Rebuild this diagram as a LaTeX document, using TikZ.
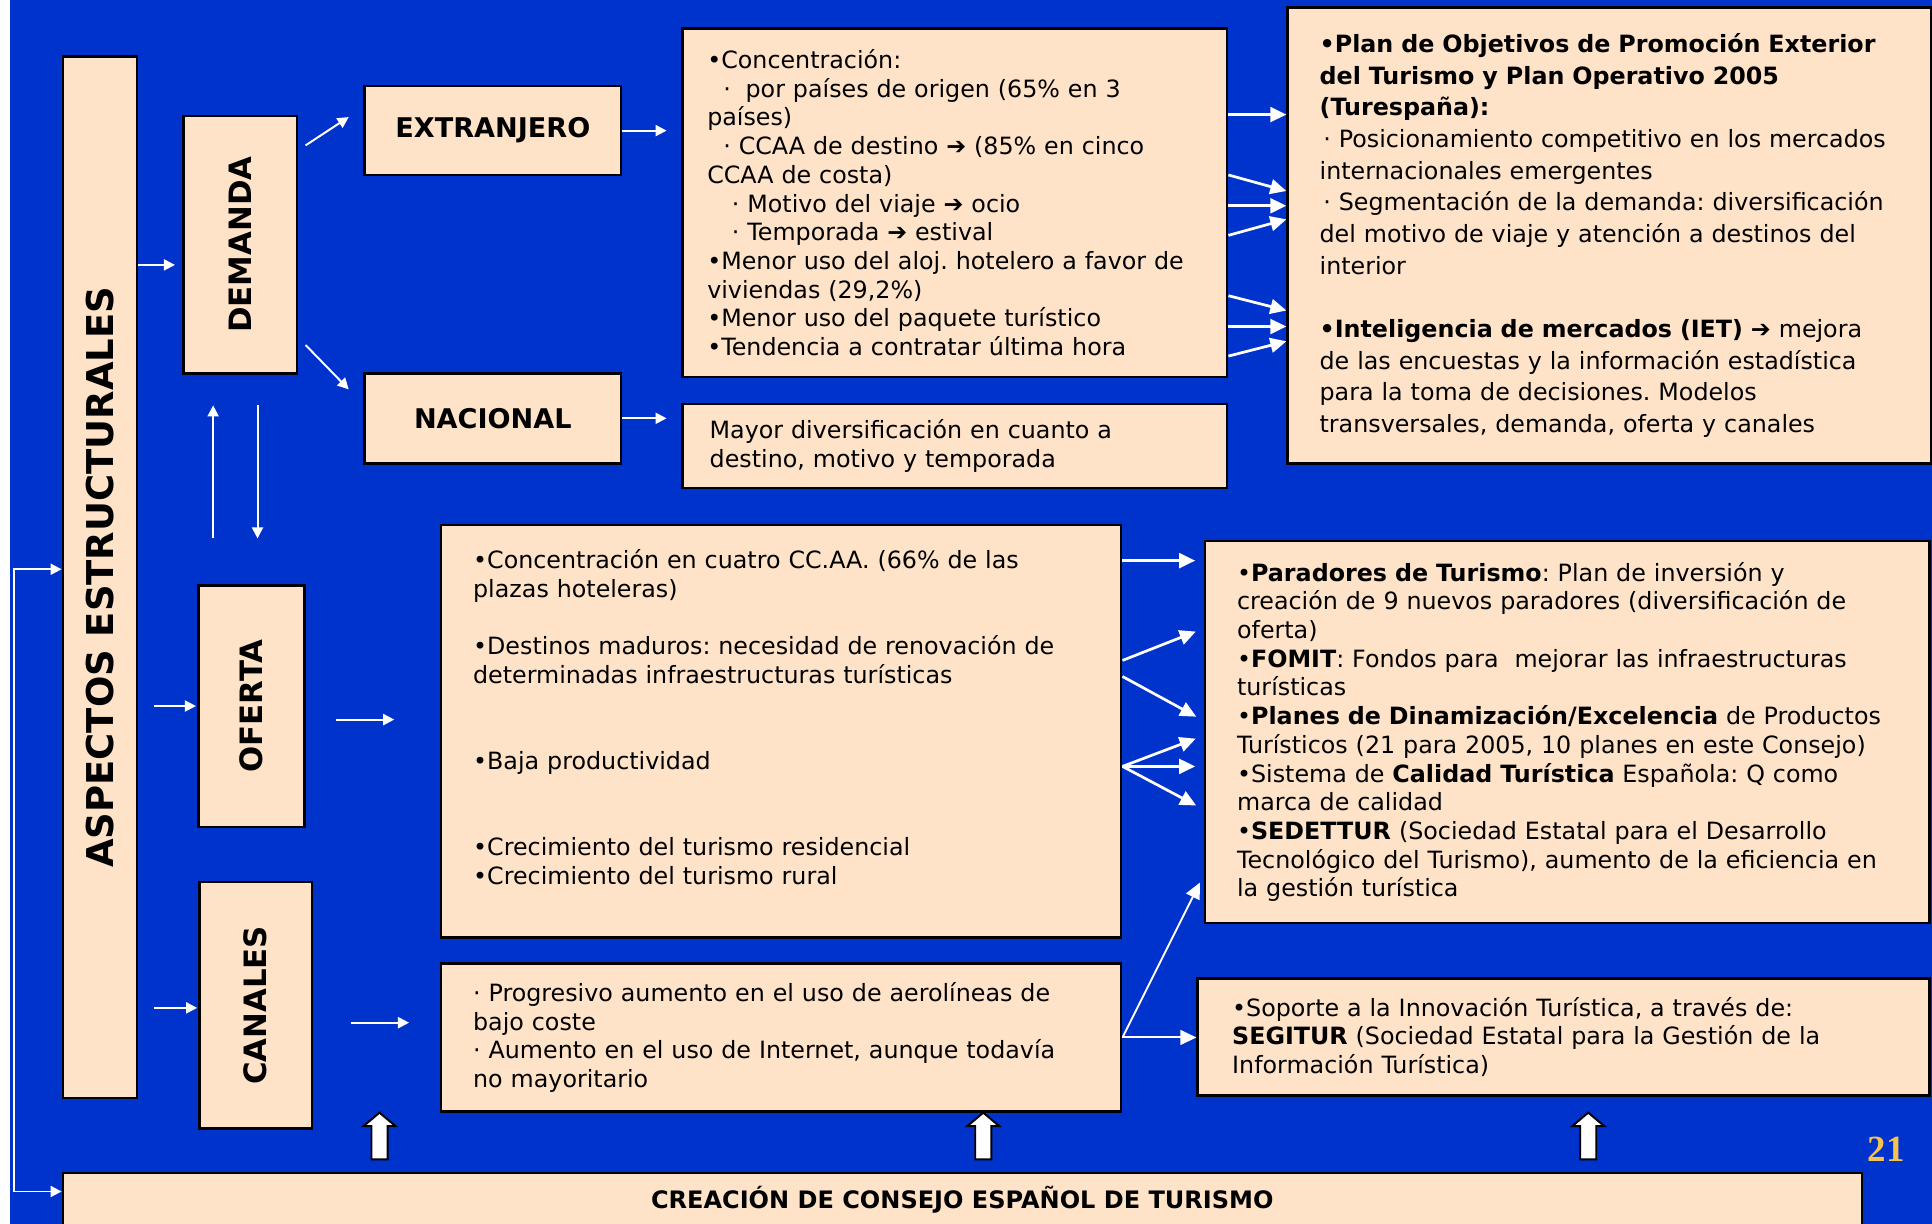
\documentclass[tikz,border=0pt]{standalone}
\usepackage{fontspec}
\setmainfont{DejaVu Sans}
\newfontfamily\numfont{Liberation Serif}
\usetikzlibrary{arrows.meta,calc,positioning}
\frenchspacing
\definecolor{slideblue}{RGB}{0,51,204}
\definecolor{peach}{RGB}{255,227,200}
\definecolor{gold}{RGB}{245,195,80}
\tikzstyle{box} = [rectangle, draw=black, fill=peach, line width=2pt, inner ysep=0pt, anchor=north west]
\tikzstyle{txt} = [align=left, font=\fontsize{19.3}{23.3}\selectfont]
\tikzstyle{tag} = [font=\bfseries\fontsize{25}{30}\selectfont]
\tikzstyle{arrow} = [white, line width=1.6pt, ->, >={Triangle[length=9pt,width=9pt]}]
\tikzstyle{fatarrow} = [white, line width=2.2pt, ->, >={Triangle[length=13pt,width=12pt]}]
\tikzstyle{blockarrow} = [draw=black, fill=white, line width=1.6pt]

\begin{document}
\begin{tikzpicture}[x=1pt,y=-1pt]
        \useasboundingbox (0,0) rectangle (1568,993);
        \fill[white] (0,0) rectangle (8,993);
        \fill[slideblue] (8,0) rectangle (1568,993);

        % left column
        \node[box, font=\bfseries\fontsize{30}{36}\selectfont, minimum width=60pt, minimum height=845pt] (aspectos) at (50,45) {\rotatebox{90}{ASPECTOS ESTRUCTURALES}};
        \node[box, tag, minimum width=92pt, minimum height=209pt] (demanda) at (148,93) {\rotatebox{90}{DEMANDA}};
        \node[box, tag, minimum width=86pt, minimum height=196pt] (oferta) at (160,474) {\rotatebox{90}{OFERTA}};
        \node[box, tag, minimum width=91pt, minimum height=200pt] (canales) at (161,715) {\rotatebox{90}{CANALES}};
        \node[box, font=\bfseries\fontsize{22}{26}\selectfont, minimum width=208pt, minimum height=72pt] (extranjero) at (295,69) {EXTRANJERO};
        \node[box, font=\bfseries\fontsize{22}{26}\selectfont, minimum width=208pt, minimum height=73pt] (nacional) at (295,302) {NACIONAL};

        % demanda
        \node[box, txt, text width=402pt, inner xsep=20pt, minimum height=283pt] (conc) at (553,22) {•Concentración:\\
            \hspace*{13pt}·\hspace*{12pt}por países de origen (65\% en 3\\
            países)\\
            \hspace*{13pt}· CCAA de destino ➔ (85\% en cinco\\
            CCAA de costa)\\
            \hspace*{20pt}· Motivo del viaje ➔ ocio\\
            \hspace*{20pt}· Temporada ➔ estival\\
            •Menor uso del aloj. hotelero a favor de\\
            viviendas (29,2\%)\\
            •Menor uso del paquete turístico\\
            •Tendencia a contratar última hora};
        \node[box, txt, text width=398pt, inner xsep=22pt, minimum height=68pt] (mayor) at (553,327) {Mayor diversificación en cuanto a\\
            destino, motivo y temporada};
        \node[box, txt, font=\fontsize{19.3}{25.7}\selectfont, text width=470pt, inner xsep=26pt, minimum height=370pt] (plan) at (1044,5) {\textbf{•Plan de Objetivos de Promoción Exterior}\\
            \textbf{del Turismo y Plan Operativo 2005}\\
            \textbf{(Turespaña):}\\
            \hspace*{3pt}· Posicionamiento competitivo en los mercados\\
            internacionales emergentes\\
            \hspace*{3pt}· Segmentación de la demanda: diversificación\\
            del motivo de viaje y atención a destinos del\\
            interior\\[25.7pt]
            \textbf{•Inteligencia de mercados (IET) ➔} mejora\\
            de las encuestas y la información estadística\\
            para la toma de decisiones. Modelos\\
            transversales, demanda, oferta y canales};

        % oferta y canales
        \node[box, txt, text width=500pt, inner xsep=26pt, minimum height=335pt] (ofertalist) at (357,425) {•Concentración en cuatro CC.AA. (66\% de las\\
            plazas hoteleras)\\[23.3pt]
            •Destinos maduros: necesidad de renovación de\\
            determinadas infraestructuras turísticas\\[46.6pt]
            •Baja productividad\\[46.6pt]
            •Crecimiento del turismo residencial\\
            •Crecimiento del turismo rural\\
            \mbox{}};
        \node[box, txt, text width=500pt, inner xsep=26pt, minimum height=120pt] (canaleslist) at (357,781) {· Progresivo aumento en el uso de aerolíneas de\\
            bajo coste\\
            · Aumento en el uso de Internet, aunque todavía\\
            no mayoritario};
        \node[box, txt, text width=536pt, inner xsep=26pt, minimum height=310pt] (paradores) at (977,438) {•\textbf{Paradores de Turismo}: Plan de inversión y\\
            creación de 9 nuevos paradores (diversificación de\\
            oferta)\\
            •\textbf{FOMIT}: Fondos para\ \ mejorar las infraestructuras\\
            turísticas\\
            •\textbf{Planes de Dinamización/Excelencia} de Productos\\
            Turísticos (21 para 2005, 10 planes en este Consejo)\\
            •Sistema de \textbf{Calidad Turística} Española: Q como\\
            marca de calidad\\
            •\textbf{SEDETTUR} (Sociedad Estatal para el Desarrollo\\
            Tecnológico del Turismo), aumento de la eficiencia en\\
            la gestión turística};
        \node[box, txt, text width=538pt, inner xsep=28pt, minimum height=95pt] (segitur) at (971,793) {•Soporte a la Innovación Turística, a través de:\\
            \textbf{SEGITUR} (Sociedad Estatal para la Gestión de la\\
            Información Turística)};

        \node[box, font=\bfseries\fontsize{19.5}{23}\selectfont, minimum width=1460pt, minimum height=44pt] (creacion) at (50,951) {CREACIÓN DE CONSEJO ESPAÑOL DE TURISMO};
        \node[text=gold, font=\numfont\bfseries\fontsize{30}{36}\selectfont] (pagenum) at (1531,933) {21};

        % connectors left
        \draw[arrow, shorten >=6pt] (aspectos.east |- 0,215) -- (demanda.west |- 0,215);
        \draw[arrow] ($(demanda.north east)+(6,25)$) -- ($(extranjero.west)+(-12,-11)$);
        \draw[arrow] ($(demanda.south east)+(6,-24)$) -- ($(nacional.west)+(-12,-23.5)$);
        \draw[arrow, shorten >=12pt] (extranjero.east) -- (conc.west |- extranjero.east);
        \draw[arrow, shorten >=12pt] (nacional.east) -- (mayor.west |- nacional.east);
        \draw[arrow] ($(oferta.north west)+(13,-37)$) -- ($(demanda.south west)+(25,25)$);
        \draw[arrow] ($(demanda.south west)+(61,25)$) -- ($(oferta.north west)+(49,-37)$);
        \draw[arrow, shorten <=13pt, shorten >=1pt] (aspectos.east |- oferta) -- (oferta.west);
        \draw[arrow, shorten <=25pt, shorten >=37pt] (oferta.east |- 0,584) -- (ofertalist.west |- 0,584);
        \draw[arrow, shorten <=13pt, shorten >=1pt] (aspectos.east |- 0,818) -- (canales.west |- 0,818);
        \draw[arrow, shorten <=31pt, shorten >=25pt] (canales.east |- 0,830) -- (canaleslist.west |- 0,830);
        \coordinate (loop) at (11,967);
        \draw[arrow, <->] (aspectos.west |- 0,462) -| (loop) -- (creacion.west |- loop);

        % connectors right
        \draw[fatarrow] (conc.east |- 0,93) -- (plan.west |- 0,93);
        \draw[fatarrow] (conc.east |- 0,142) -- (plan.west |- 0,155);
        \draw[fatarrow] (conc.east |- 0,167) -- (plan.west |- 0,167);
        \draw[fatarrow] (conc.east |- 0,191) -- (plan.west |- 0,178);
        \draw[fatarrow] (conc.east |- 0,240) -- (plan.west |- 0,252);
        \draw[fatarrow] (conc.east |- 0,265) -- (plan.west |- 0,265);
        \draw[fatarrow] (conc.east |- 0,289) -- (plan.west |- 0,277);
        \draw[fatarrow, shorten >=7pt] (ofertalist.east |- 0,455) -- (paradores.west |- 0,455);
        \draw[fatarrow, shorten >=7pt] (ofertalist.east |- 0,536) -- (paradores.west |- 0,510);
        \draw[fatarrow, shorten >=7pt] (ofertalist.east |- 0,549) -- (paradores.west |- 0,585);
        \draw[fatarrow, shorten >=7pt] (ofertalist.east |- 0,622) -- (paradores.west |- 0,597);
        \draw[fatarrow, shorten >=7pt] (ofertalist.east |- 0,622) -- (paradores.west |- 0,622);
        \draw[fatarrow, shorten >=7pt] (ofertalist.east |- 0,622) -- (paradores.west |- 0,657);
        \draw[fatarrow, line width=1.6pt, shorten >=7pt] (canaleslist.east) -- (paradores.west |- 0,710);
        \draw[fatarrow, line width=1.6pt] (canaleslist.east) -- (segitur.west |- canaleslist.east);

        % block arrows from the consejo
        \draw[blockarrow] (301.5,941) -- (301.5,914) -- (295,914) -- (308,903) -- (321,914) -- (314.5,914) -- (314.5,941) -- cycle;
        \draw[blockarrow] (791.5,941) -- (791.5,914) -- (785,914) -- (798,903) -- (811,914) -- (804.5,914) -- (804.5,941) -- cycle;
        \draw[blockarrow] (1282.5,941) -- (1282.5,914) -- (1276,914) -- (1289,903) -- (1302,914) -- (1295.5,914) -- (1295.5,941) -- cycle;
    \end{tikzpicture}
\end{document}
